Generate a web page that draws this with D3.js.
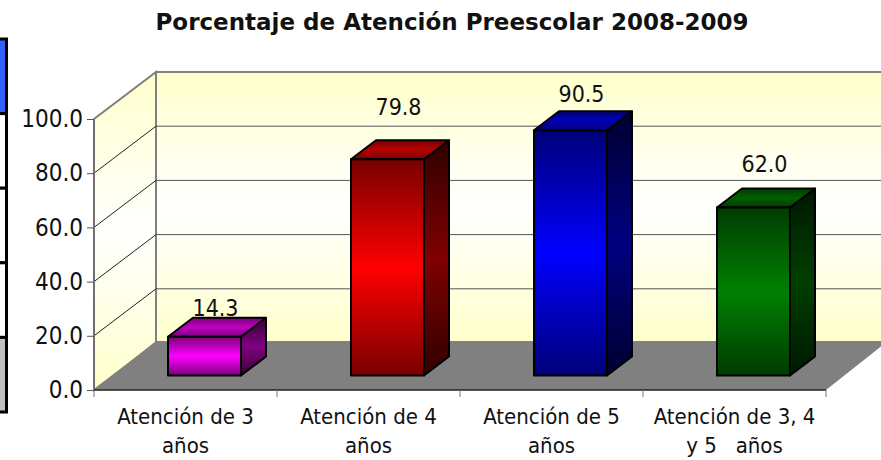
<!doctype html>
<html lang="es">
<head>
<meta charset="utf-8">
<style>
body { margin: 0; background: #fff; }
svg { display: block; font-family: "DejaVu Sans Condensed", "DejaVu Sans", sans-serif; font-stretch: condensed; }
</style>
</head>
<body>
<script src="https://d3js.org/d3.v7.min.js"></script>
<script>
var categories = [["Atención de 3", "años"], ["Atención de 4", "años"], ["Atención de 5", "años"], ["Atención de 3, 4", "y 5\u00a0\u00a0 años"]];
var values = [14.3, 79.8, 90.5, 62.0];
var yTicks = [0, 20, 40, 60, 80, 100];
var barColors = [
  {dark: "#7a007a", mid: "#ff00ff", top: "#c000c0", side: "#800080", sideDark: "#380038"},
  {dark: "#780000", mid: "#ff0000", top: "#b80000", side: "#800000", sideDark: "#300000"},
  {dark: "#000078", mid: "#0000ff", top: "#0000b8", side: "#000080", sideDark: "#000030"},
  {dark: "#003c00", mid: "#008000", top: "#006000", side: "#004000", sideDark: "#001800"}
];
var panelRows = ["#2f62ff", "#ffffff", "#ffffff", "#ffffff", "#c0c0c0"];

var width = 881, height = 460;
var depthX = 62, depthY = 47, floorDepthY = 49;
var barDepthX = 25, barDepthY = 19;
var barLift = 14.5;                // bars stand inside the floor
var barW = 73, barOff = 74;
var labelDx = 11, labelDy = [21, 44, 28, 35];   // labels were moved by hand in the original

var x = d3.scaleBand().domain(d3.range(categories.length)).range([94, 826]);
var y = d3.scaleLinear().domain([0, 100]).range([390, 119]);

var svg = d3.select("body").append("svg").attr("width", width).attr("height", height);
var defs = svg.append("defs");

function grad(id, stops) {
  var g = defs.append("linearGradient").attr("id", id)
    .attr("x1", 0).attr("y1", 0).attr("x2", 0).attr("y2", 1);
  stops.forEach(function(s) {
    g.append("stop").attr("offset", s[0]).attr("stop-color", s[1]);
  });
}

grad("wall", [[0, "#ffffcc"], [0.5, "#ffffff"], [1, "#ffffcc"]]);
barColors.forEach(function(c, i) {
  grad("front" + i, [[0, c.dark], [0.5, c.mid], [1, c.dark]]);
  grad("side" + i, [[0, c.sideDark], [0.5, c.side], [1, c.sideDark]]);
  grad("top" + i, [[0, c.dark], [0.5, c.top], [1, c.dark]]);
});

// left-hand fragment of a table cut off by the picture
var rowY = d3.scaleBand().domain(d3.range(panelRows.length)).range([39, 412]);
svg.append("g").selectAll("rect").data(panelRows).join("rect")
  .attr("x", -4).attr("y", function(d, i) { return rowY(i); })
  .attr("width", 10.5).attr("height", rowY.bandwidth())
  .attr("fill", function(d) { return d; })
  .attr("stroke", "#000").attr("stroke-width", 3);

// walls
var x0 = x.range()[0], x1 = x.range()[1], y0 = y(0), y100 = y(100);
svg.append("path")
  .attr("d", d3.line()([[x0, y0], [x0, y100], [x0 + depthX, y100 - depthY], [x0 + depthX, y0 - depthY]]) + "Z")
  .attr("fill", "url(#wall)").attr("stroke", "#808080").attr("stroke-width", 2);
svg.append("rect")
  .attr("x", x0 + depthX).attr("y", y100 - depthY)
  .attr("width", x1 - x0).attr("height", y0 - y100)
  .attr("fill", "url(#wall)").attr("stroke", "#808080").attr("stroke-width", 2);

// grid lines
var grid = svg.append("g");
yTicks.slice(1, -1).forEach(function(t) {
  grid.append("line").attr("x1", x0).attr("y1", y(t)).attr("x2", x0 + depthX).attr("y2", y(t) - depthY)
    .attr("stroke", "#222").attr("stroke-width", 1);
  grid.append("line").attr("x1", x0 + depthX).attr("y1", y(t) - depthY).attr("x2", x1 + depthX).attr("y2", y(t) - depthY)
    .attr("stroke", "#555").attr("stroke-width", 1);
});

// floor
svg.append("path")
  .attr("d", d3.line()([[x0, y0], [x0 + depthX, y0 - floorDepthY], [x1 + depthX, y0 - floorDepthY], [x1, y0]]) + "Z")
  .attr("fill", "#808080");

// axes
svg.append("line").attr("x1", x0).attr("x2", x0).attr("y1", y100).attr("y2", y0).attr("stroke", "#707070").attr("stroke-width", 2);
svg.append("line").attr("x1", x0).attr("x2", x1).attr("y1", y0).attr("y2", y0).attr("stroke", "#222").attr("stroke-width", 1.5);

var yAxis = d3.axisLeft(y).tickValues(yTicks).tickFormat(d3.format(".1f")).tickSize(7).tickPadding(4);
var yg = svg.append("g").attr("transform", "translate(" + x0 + ",0)").call(yAxis);
yg.select(".domain").remove();
yg.selectAll("line").attr("stroke", "#555");
yg.selectAll("text").attr("font-size", 24).attr("fill", "#111").attr("font-family", null);
yg.attr("font-family", null);

var xTicks = svg.append("g");
d3.range(categories.length + 1).forEach(function(i) {
  var px = i < categories.length ? x(i) : x1;
  xTicks.append("line").attr("x1", px).attr("x2", px).attr("y1", y0).attr("y2", y0 + 7).attr("stroke", "#777");
});

var catText = svg.append("g").selectAll("text").data(categories).join("text")
  .attr("text-anchor", "middle").attr("font-size", 22).attr("fill", "#111")
  .attr("transform", function(d, i) { return "translate(" + (x(i) + x.bandwidth() / 2) + ",0)"; });
catText.selectAll("tspan").data(function(d) { return d; }).join("tspan")
  .attr("x", 0).attr("y", function(d, i) { return 424 + i * 29; })
  .text(function(d) { return d; });

// bars
var bars = svg.append("g").selectAll("g").data(values).join("g");
function bx(i) { return x(i) + barOff; }
function by(d) { return y(d) - barLift; }
var base = y0 - barLift;

bars.append("path").attr("fill", function(d, i) { return "url(#side" + i + ")"; })
  .attr("d", function(d, i) {
    var r = bx(i) + barW;
    return d3.line()([[r, by(d)], [r + barDepthX, by(d) - barDepthY], [r + barDepthX, base - barDepthY], [r, base]]) + "Z";
  });
bars.append("path").attr("fill", function(d, i) { return "url(#top" + i + ")"; })
  .attr("d", function(d, i) {
    var l = bx(i), t = by(d);
    return d3.line()([[l, t], [l + barDepthX, t - barDepthY], [l + barW + barDepthX, t - barDepthY], [l + barW, t]]) + "Z";
  });
bars.append("rect").attr("fill", function(d, i) { return "url(#front" + i + ")"; })
  .attr("x", function(d, i) { return bx(i); }).attr("y", by)
  .attr("width", barW).attr("height", function(d) { return base - by(d); });
bars.selectAll("path,rect").attr("stroke", "#000").attr("stroke-width", 2).attr("stroke-linejoin", "round");

// value labels
svg.append("g").selectAll("text").data(values).join("text")
  .attr("text-anchor", "middle").attr("font-size", 23).attr("fill", "#111")
  .attr("x", function(d, i) { return bx(i) + barW / 2 + labelDx; })
  .attr("y", function(d, i) { return by(d) - labelDy[i]; })
  .text(function(d) { return d3.format(".1f")(d); });

svg.append("text").attr("x", 452).attr("y", 30).attr("text-anchor", "middle")
  .attr("font-size", 23).attr("font-weight", "bold").attr("fill", "#111")
  .attr("font-family", "DejaVu Sans").style("font-stretch", "normal")
  .text("Porcentaje de Atención Preescolar 2008-2009");
</script>
</body>
</html>
